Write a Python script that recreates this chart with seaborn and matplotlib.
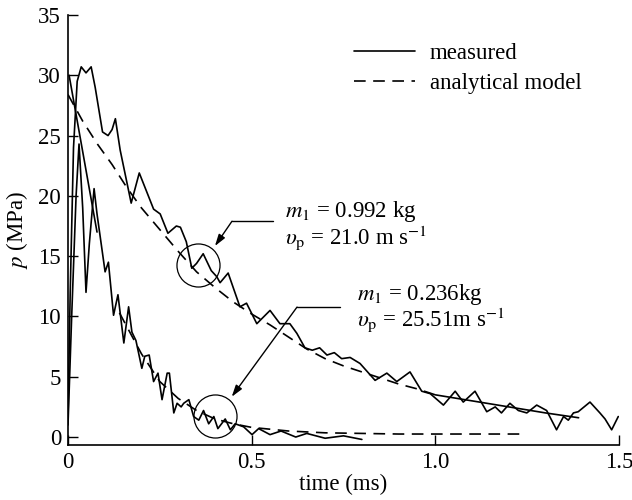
import matplotlib
matplotlib.use("Agg")
import matplotlib.pyplot as plt
import seaborn as sns
import pandas as pd
from matplotlib.lines import Line2D

# ---------------- data ----------------
# measured, m1 = 0.992 kg
big_meas_t = [0.0, 0.006, 0.015, 0.025, 0.036, 0.049, 0.063, 0.074, 0.094, 0.109, 0.12, 0.129,
              0.142, 0.172, 0.194, 0.22, 0.233, 0.251, 0.272, 0.295, 0.306, 0.322, 0.337, 0.35,
              0.368, 0.39, 0.405, 0.414, 0.436, 0.468, 0.486, 0.514, 0.55, 0.577, 0.604, 0.623,
              0.645, 0.665, 0.685, 0.705, 0.725, 0.745, 0.768, 0.795, 0.836, 0.868, 0.895, 0.931,
              0.963, 0.986, 1.022, 1.054, 1.076, 1.108, 1.14, 1.163, 1.18, 1.203, 1.226, 1.249,
              1.276, 1.303, 1.33, 1.349, 1.362, 1.376, 1.389, 1.421, 1.448, 1.462, 1.48, 1.498]
big_meas_p = [1.5, 12.0, 24.0, 29.5, 30.7, 30.2, 30.7, 29.0, 25.3, 25.0, 25.5, 26.4,
              23.8, 19.4, 21.9, 19.9, 18.9, 18.5, 16.9, 17.5, 17.4, 16.2, 14.0, 14.4,
              15.2, 13.8, 13.3, 12.8, 13.6, 10.8, 11.1, 9.4, 10.5, 9.4, 9.4, 8.6,
              7.4, 7.2, 7.4, 6.8, 7.0, 6.5, 6.6, 6.1, 4.7, 5.3, 4.6, 5.4,
              3.8, 3.6, 2.65, 3.8, 2.9, 3.8, 2.1, 2.5, 2.0, 2.8, 2.2, 2.0,
              2.65, 2.2, 0.6, 1.7, 1.4, 2.0, 2.1, 2.9, 2.0, 1.5, 0.6, 1.7]

# short early trace
early_t = [0.003, 0.079]
early_p = [30.0, 17.0]

# measured, m1 = 0.236 kg
small_meas_t = [0.0, 0.01, 0.022, 0.03, 0.04, 0.049, 0.058, 0.071, 0.079, 0.101, 0.11, 0.124,
                0.136, 0.152, 0.165, 0.174, 0.185, 0.201, 0.209, 0.221, 0.233, 0.245, 0.256,
                0.27, 0.276, 0.288, 0.297, 0.308, 0.315, 0.329, 0.342, 0.356, 0.369, 0.383,
                0.397, 0.408, 0.428, 0.442, 0.455, 0.478, 0.501, 0.519, 0.55, 0.58, 0.62,
                0.65, 0.7, 0.75, 0.8]
small_meas_p = [1.0, 10.0, 20.0, 24.3, 19.0, 12.0, 16.0, 20.6, 18.5, 13.7, 14.5, 10.1,
                11.8, 7.8, 10.8, 8.7, 8.0, 5.7, 6.7, 6.8, 4.6, 5.3, 3.1,
                5.3, 5.3, 2.0, 2.8, 2.5, 2.8, 3.1, 1.7, 1.4, 2.2, 1.1,
                1.7, 0.7, 1.5, 0.6, 1.1, 0.85, 0.2, 0.7, 0.2, 0.5, 0.0,
                0.3, -0.1, 0.1, -0.2]

# analytical model, m1 = 0.992 kg
big_model_t = [0.0, 0.04, 0.08, 0.12, 0.16, 0.2, 0.25, 0.3, 0.35, 0.4, 0.45, 0.5, 0.55,
               0.6, 0.65, 0.7, 0.75, 0.8, 0.85, 0.9, 0.95, 1.0]
big_model_p = [28.4, 26.2, 24.3, 22.6, 20.7, 19.0, 17.2, 15.4, 13.7, 12.4, 11.2, 10.2, 9.3,
               8.3, 7.3, 6.5, 5.9, 5.4, 4.9, 4.4, 4.0, 3.5]
big_tail_t = [1.0, 1.1, 1.2, 1.3, 1.39]
big_tail_p = [3.5, 3.0, 2.5, 2.0, 1.6]

# analytical model, m1 = 0.236 kg
small_model_t = [0.14, 0.2, 0.25, 0.3, 0.35, 0.4, 0.45, 0.5, 0.6, 0.7, 0.8, 0.9, 1.0, 1.1, 1.23]
small_model_p = [10.3, 6.9, 4.6, 3.2, 2.2, 1.5, 1.1, 0.8, 0.5, 0.35, 0.3, 0.25, 0.25, 0.25, 0.25]

x_ticks = [0, 0.5, 1.0, 1.5]
x_tick_labels = ["0", "0.5", "1.0", "1.5"]
y_ticks = [0, 5, 10, 15, 20, 25, 30, 35]

# ---------------- style ----------------
sns.set_style("ticks", {"axes.edgecolor": "black", "xtick.color": "black",
                        "ytick.color": "black", "text.color": "black",
                        "axes.labelcolor": "black",
                        "xtick.direction": "in", "ytick.direction": "in"})
plt.rcParams["font.family"] = ["Liberation Serif", "DejaVu Serif"]
plt.rcParams["mathtext.fontset"] = "stix"

FS = 16.5
fig = plt.figure(figsize=(6.32, 5.0), dpi=100)
ax = fig.add_axes([68 / 632, 1 - 445 / 500, (619 - 68) / 632, (445 - 15) / 500])

LW = 1.2
DASH = (0, (7, 4.5))

def line(t, p, ls="-"):
    df = pd.DataFrame({"t": t, "p": p})
    sns.lineplot(data=df, x="t", y="p", ax=ax, color="black", lw=LW,
                 linestyle=ls, sort=False, estimator=None)

line(big_meas_t, big_meas_p)
line(early_t, early_p)
line(small_meas_t, small_meas_p)
line(big_model_t, big_model_p, DASH)
line(big_tail_t, big_tail_p)
line(small_model_t, small_model_p, DASH)

ax.set_xlim(0, 1.5)
ax.set_ylim(-0.66, 35)
ax.set_xticks(x_ticks)
ax.set_xticklabels(x_tick_labels)
ax.set_yticks(y_ticks)
ax.tick_params(axis="both", direction="in", length=7, width=1.0, labelsize=FS, pad=5)
for s in ["top", "right"]:
    ax.spines[s].set_visible(False)
for s in ["left", "bottom"]:
    ax.spines[s].set_linewidth(1.2)
ax.set_xlabel("time (ms)", fontsize=FS, labelpad=1)
ax.set_ylabel("$p$ (MPa)", fontsize=FS, labelpad=6)

# circles
ax.plot([0.354], [14.3], marker="o", ms=31, mfc="none", mec="black", mew=0.9, ls="none")
ax.plot([0.40], [1.74], marker="o", ms=31, mfc="none", mec="black", mew=0.9, ls="none")

arrow = dict(arrowstyle="-|>,head_length=0.7,head_width=0.22", color="black",
             lw=1.0, shrinkA=0, shrinkB=0)
# upper annotation
ax.plot([0.4465, 0.558], [17.9, 17.9], color="black", lw=1.0)
ax.annotate("", xy=(0.40, 15.84), xytext=(0.4465, 17.9), arrowprops=arrow)
ax.text(0.591, 18.74, "$m_1$ = 0.992 kg", fontsize=FS, va="center", ha="left")
ax.text(0.591, 16.5, r"$\upsilon_{\rm p}$ = 21.0 m s$^{-1}$", fontsize=FS, va="center", ha="left")
# lower annotation
ax.plot([0.6235, 0.7405], [10.78, 10.78], color="black", lw=1.0)
ax.annotate("", xy=(0.4457, 3.34), xytext=(0.6235, 10.78), arrowprops=arrow)
ax.text(0.787, 11.86, "$m_1$ = 0.236kg", fontsize=FS, va="center", ha="left")
ax.text(0.787, 9.7, r"$\upsilon_{\rm p}$ = 25.51m s$^{-1}$", fontsize=FS, va="center", ha="left")

# legend
handles = [Line2D([], [], color="black", lw=LW),
           Line2D([], [], color="black", lw=LW, linestyle=DASH)]
leg = fig.legend(handles, ["measured", "analytical model"], loc="upper left",
                 bbox_to_anchor=(354 / 632, 1 - 43 / 500), frameon=False,
                 fontsize=FS, handlelength=2.65, handletextpad=0.65,
                 labelspacing=0.38, borderpad=0, borderaxespad=0)

fig.savefig("out.png", dpi=100)
